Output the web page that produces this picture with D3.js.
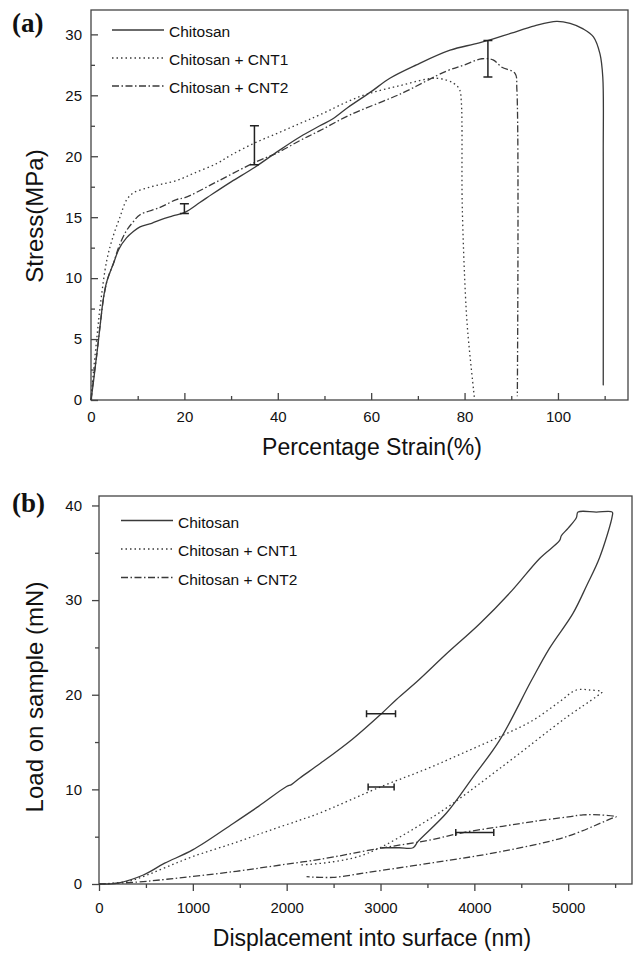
<!DOCTYPE html>
<html>
<head>
<meta charset="utf-8">
<script src="https://cdn.jsdelivr.net/npm/d3@7"></script>
<style>
  body { margin: 0; background: #fff; }
  text { font-family: "Liberation Sans", Arial, sans-serif; fill: #111; }
</style>
</head>
<body>
<div id="chart"></div>
<script>
// ---- data ----
// (a) tensile test: [strain %, stress MPa]
var strainChitosan = [[0,0],[0.5,1.4],[1.0,3.0],[1.6,4.9],[2.1,6.6],[2.6,8.2],[3.3,9.6],[4.0,10.4],[4.8,11.2],[6,12.4],[7.6,13.3],[9,13.8],[10.5,14.2],[13,14.5],[15,14.8],[17.5,15.1],[20.1,15.4],[23.3,16.2],[26,16.9],[30,17.9],[35.1,19.1],[40,20.4],[44.8,21.6],[49,22.5],[51.9,23.1],[55,24],[60,25.3],[64,26.4],[69.7,27.5],[76.9,28.7],[82,29.2],[85.1,29.5],[90,30.1],[95,30.7],[99.7,31.07],[102.6,30.9],[105.4,30.45],[107.6,29.8],[109,28.4],[109.6,26.5],[109.7,20],[109.7,1.2]];
var strainCNT1 = [[0,0],[0.5,2.2],[1.2,4.9],[2.0,7.8],[3.4,11.5],[4.8,13.5],[6.2,15.0],[7.6,16.4],[9.1,17.0],[12,17.4],[15,17.7],[18.3,18.0],[22,18.6],[26.9,19.4],[30,20.1],[35.1,21.1],[40,21.9],[44.8,22.7],[49,23.4],[57.6,24.9],[66.2,25.8],[74,26.4],[77.6,26.0],[78.9,25.5],[79.3,24.5],[79.5,16],[80.2,8.5],[80.7,5.5],[82.1,0.2]];
var strainCNT2 = [[0,0],[0.5,1.6],[1.2,3.6],[2.0,6.3],[2.8,8.6],[3.6,10.0],[4.8,11.2],[6,12.6],[7.6,13.9],[9,14.6],[10.5,15.2],[14.8,15.8],[18.3,16.45],[20.1,16.6],[26.9,17.9],[35.1,19.5],[40,20.3],[44.8,21.3],[49,22.1],[55.5,23.4],[66.2,25.1],[76.2,27.0],[80,27.5],[83.7,28.0],[86.1,27.9],[88,27.3],[90.8,26.8],[91.2,25.5],[91.3,0.3]];
var errA_x = [20, 35, 85];
var errA_lo = [15.3, 19.3, 26.5];
var errA_hi = [16.1, 22.5, 29.5];

// (b) nanoindentation: [displacement nm, load mN]
var loadChitosan = [[0,0],[200,0.1],[472,0.95],[700,2.2],[998,3.6],[1430,6.4],[1700,8.2],[1999,10.3],[2050,10.5],[2141,11.2],[2353,12.7],[2700,15.3],[3010,18.0],[3170,19.5],[3401,21.5],[3700,24.3],[4057,27.5],[4400,31.0],[4696,34.4],[4909,36.3],[4927,36.8],[5000,37.6],[5087,38.7],[5105,39.3],[5300,39.3],[5470,39.3],[5470,38.9],[5335,34.5],[5200,31.6],[5051,28.6],[4800,24.9],[4608,21.5],[4270,15.2],[3986,11.3],[3703,7.5],[3400,4.5],[3347,3.83],[3200,3.83],[3010,3.83]];
var loadCNT1 = [[0,0],[295,0.25],[500,0.9],[721,1.8],[1000,2.9],[1430,4.3],[1800,5.6],[2141,6.75],[2353,7.5],[3010,10.3],[3500,12.2],[3916,14.0],[4300,15.7],[4625,17.3],[4900,19.2],[5087,20.5],[5229,20.5],[5360,20.3],[5300,19.8],[4980,17.6],[4270,12.2],[3560,7.1],[2851,3.2],[2495,2.35],[2141,2.0]];
var loadCNT2 = [[0,0],[400,0.2],[721,0.5],[1430,1.3],[1999,2.1],[2353,2.6],[3010,3.8],[3500,4.6],[3916,5.5],[4300,6.1],[4625,6.6],[5000,7.1],[5158,7.3],[5335,7.3],[5513,7.1],[5480,7.0],[4980,5.0],[4270,3.4],[3560,2.25],[2851,1.2],[2495,0.7],[2212,0.77]];
var errB_y = [18.0, 10.26, 5.45];
var errB_lo = [2851, 2868, 3802];
var errB_hi = [3160, 3145, 4207];

var seriesNames = ["Chitosan", "Chitosan + CNT1", "Chitosan + CNT2"];
var ticksA_x = [0, 20, 40, 60, 80, 100];
var ticksA_y = [0, 5, 10, 15, 20, 25, 30];
var ticksB_x = [0, 1000, 2000, 3000, 4000, 5000];
var ticksB_y = [0, 10, 20, 30, 40];

// ---- drawing ----
var lineColor = "#3a3a3a";
var dashes = [null, "1.5,3", "7,2.5,1.5,2.5"];

var svg = d3.select("#chart")
  .append("svg")
  .attr("width", 633)
  .attr("height", 954);

function drawPanel(opts) {
  var x = d3.scaleLinear().domain(opts.xDomain).range([opts.left, opts.right]);
  var y = d3.scaleLinear().domain(opts.yDomain).range([opts.bottom, opts.top]);
  var g = svg.append("g");
  var tickDir = opts.inward ? -1 : 1;

  // minor ticks
  g.append("g")
    .attr("transform", `translate(0, ${opts.bottom})`)
    .call(d3.axisBottom(x).tickValues(opts.xMinor).tickSize(4 * tickDir).tickFormat(""))
    .call(a => a.select(".domain").remove());
  g.append("g")
    .attr("transform", `translate(${opts.left}, 0)`)
    .call(d3.axisLeft(y).tickValues(opts.yMinor).tickSize(4 * tickDir).tickFormat(""))
    .call(a => a.select(".domain").remove());

  // major ticks + labels
  var xAxis = g.append("g")
    .attr("transform", `translate(0, ${opts.bottom})`)
    .call(d3.axisBottom(x).tickValues(opts.xTicks).tickSize(7 * tickDir).tickPadding(opts.xPad).tickFormat(d3.format("d")));
  var yAxis = g.append("g")
    .attr("transform", `translate(${opts.left}, 0)`)
    .call(d3.axisLeft(y).tickValues(opts.yTicks).tickSize(7 * tickDir).tickPadding(opts.yPad).tickFormat(d3.format("d")));
  [xAxis, yAxis].forEach(function(a) {
    a.select(".domain").remove();
    a.selectAll("text").attr("font-size", 15).style("fill", "#111");
  });
  g.selectAll(".tick line").attr("stroke", "#444").attr("stroke-width", 1.3);

  // frame
  g.append("rect")
    .attr("x", opts.left)
    .attr("y", opts.top)
    .attr("width", opts.right - opts.left)
    .attr("height", opts.bottom - opts.top)
    .attr("fill", "none")
    .attr("stroke", "#444")
    .attr("stroke-width", 1.3);

  // curves
  var line = d3.line()
    .x(d => x(d[0]))
    .y(d => y(d[1]))
    .curve(d3.curveCatmullRom.alpha(0.5));
  opts.series.forEach(function(s, i) {
    g.append("path")
      .attr("d", line(s))
      .attr("fill", "none")
      .attr("stroke", lineColor)
      .attr("stroke-width", 1.3)
      .attr("stroke-dasharray", dashes[i]);
  });

  // error bars
  opts.errors(g, x, y);

  // legend
  seriesNames.forEach(function(name, i) {
    var ly = opts.legendY + i * opts.legendStep;
    g.append("line")
      .attr("x1", opts.legendX)
      .attr("x2", opts.legendX + 52)
      .attr("y1", ly)
      .attr("y2", ly)
      .attr("stroke", lineColor)
      .attr("stroke-width", 1.3)
      .attr("stroke-dasharray", dashes[i]);
    g.append("text")
      .attr("x", opts.legendX + 57)
      .attr("y", ly + 7)
      .attr("font-size", 15.5)
      .text(name);
  });

  // axis titles
  g.append("text")
    .attr("x", 372)
    .attr("y", opts.xTitleY)
    .attr("text-anchor", "middle")
    .attr("font-size", 23)
    .text(opts.xTitle);
  g.append("text")
    .attr("transform", `translate(43, ${opts.yTitleY}) rotate(-90)`)
    .attr("text-anchor", "middle")
    .attr("font-size", 24)
    .text(opts.yTitle);

  // panel letter
  g.append("text")
    .attr("x", 12)
    .attr("y", opts.letterY)
    .style("font-family", "'Liberation Serif', 'Times New Roman', serif")
    .attr("font-weight", "bold")
    .attr("font-size", 27)
    .text(opts.letter);
}

drawPanel({
  left: 91, right: 628, top: 10, bottom: 400,
  xDomain: [0, 115], yDomain: [0, 32],
  xTicks: ticksA_x, yTicks: ticksA_y,
  xMinor: [10, 30, 50, 70, 90, 110], yMinor: [2.5, 7.5, 12.5, 17.5, 22.5, 27.5],
  inward: true, xPad: 11, yPad: 9,
  series: [strainChitosan, strainCNT1, strainCNT2],
  errors: function(g, x, y) {
    errA_x.forEach(function(v, i) {
      var cx = x(v);
      g.append("path")
        .attr("d", `M${cx - 4.5},${y(errA_hi[i])}H${cx + 4.5}M${cx},${y(errA_hi[i])}V${y(errA_lo[i])}M${cx - 4.5},${y(errA_lo[i])}H${cx + 4.5}`)
        .attr("fill", "none")
        .attr("stroke", "#222")
        .attr("stroke-width", 1.5);
    });
  },
  legendX: 112, legendY: 30, legendStep: 28,
  xTitle: "Percentage Strain(%)", xTitleY: 455,
  yTitle: "Stress(MPa)", yTitleY: 216,
  letter: "(a)", letterY: 32
});

drawPanel({
  left: 99, right: 632, top: 496, bottom: 884,
  xDomain: [0, 5680], yDomain: [0, 41],
  xTicks: ticksB_x, yTicks: ticksB_y,
  xMinor: [500, 1500, 2500, 3500, 4500, 5500], yMinor: [5, 15, 25, 35],
  inward: false, xPad: 11, yPad: 10,
  series: [loadChitosan, loadCNT1, loadCNT2],
  errors: function(g, x, y) {
    errB_y.forEach(function(v, i) {
      var cy = y(v);
      g.append("path")
        .attr("d", `M${x(errB_lo[i])},${cy - 3.5}V${cy + 3.5}M${x(errB_lo[i])},${cy}H${x(errB_hi[i])}M${x(errB_hi[i])},${cy - 3.5}V${cy + 3.5}`)
        .attr("fill", "none")
        .attr("stroke", "#222")
        .attr("stroke-width", 1.5);
    });
  },
  legendX: 121, legendY: 520.5, legendStep: 28.5,
  xTitle: "Displacement into surface (nm)", xTitleY: 946,
  yTitle: "Load on sample (mN)", yTitleY: 697,
  letter: "(b)", letterY: 512
});
</script>
</body>
</html>
